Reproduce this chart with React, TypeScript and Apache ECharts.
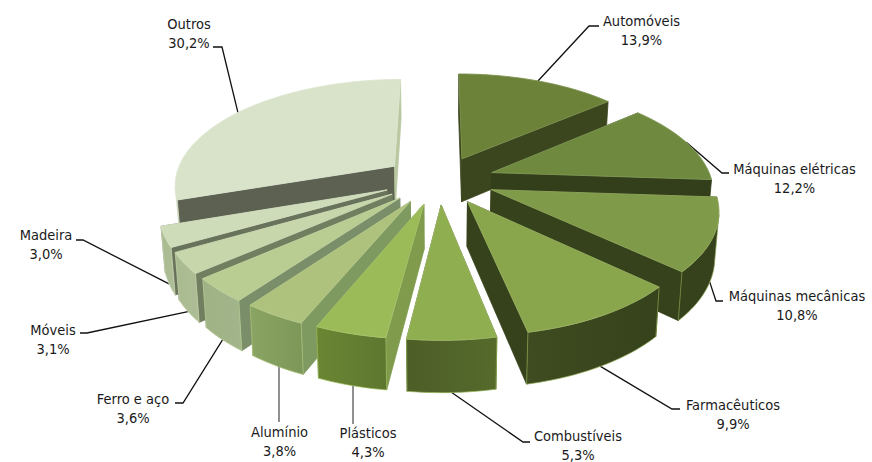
import React, { useEffect, useRef } from "react";
import * as echarts from "echarts";

const categories = ["Automóveis","Máquinas elétricas","Máquinas mecânicas","Farmacêuticos","Combustíveis","Plásticos","Alumínio","Ferro e aço","Móveis","Madeira","Outros"];
const shares = [13.9,12.2,10.8,9.9,5.3,4.3,3.8,3.6,3.1,3.0,30.2];

const topColors = ["#6b8238","#6f8a3f","#7f9a48","#8aa64d","#8fae50","#9bbb59","#aec27d","#b9cc92","#c7d6ab","#cfdcb9","#d9e3ca"];
const startWall = ["#3b451e","#3b461f","#36421b","#36421b","#55672b","#7f9b4b","#7f9a60","#7b8e6a","#717f60","#69725a","#5c6152"];
const endWall = ["#3b451e","#333e1a","#36421b","#36421b","#55672b","#7f9b4b","#7f9a60","#7b8e6a","#717f60","#69725a","#b9c8a0"];
const outerA = ["#3b451e","#3b461f","#36421b","#3f4b20","#4d5e27","#6a8633","#8aa463","#9fb386","#a9ba90","#a9ba90","#b5c59e"];
const outerB = ["#3b451e","#3b461f","#36421b","#36421b","#566a2c","#5e7730","#7d9759","#a2b58b","#aebd96","#aebd96","#b5c59e"];

// layout of the labels: text centre and the elbow of each leader line
const labelCentres = [[641.5,30.5],[794.5,178],[797,305.5],[733,414.5],[578,445],[368,442],[279.5,441],[133,408],[53,339],[46,244.5],[189,33]];
const leaderElbows = [[[589,26],[599,26]],[[722,173],[729,173]],[[716,301],[723,301]],[[672,409],[680,409]],[[523,442],[530,442]],[[353,424]],[[279,422]],[[183,403],[175,403]],[[87,333],[80,333]],[[83,240],[76,240]],[[222,47],[213,47]]];
const leaderOnBase = [false,false,true,true,true,true,true,true,true,true,false];

const CX = 439, CY = 180, RX = 224, B = 104.7, A = 0.16, EXPLODE = 0.23, EXPLODE_X = 0.25, RIM_X = 0.982, HEIGHT = 44, BASE_SHRINK = 0.985;
const FONT = '"DejaVu Sans Condensed", "DejaVu Sans"';

const total = shares.reduce((a, b) => a + b, 0);
const rad = (d: number) => (d * Math.PI) / 180;
const ranges = shares.map((_, i) => {
  const a0 = (shares.slice(0, i).reduce((a, b) => a + b, 0) / total) * 360;
  return [a0, a0 + (shares[i] / total) * 360];
});
const mid = (i: number) => (ranges[i][0] + ranges[i][1]) / 2;

function top(i: number, theta: number, r: number) {
  const m = rad(mid(i));
  const X = EXPLODE_X * Math.sin(m) + RIM_X * r * Math.sin(rad(theta));
  const Y = EXPLODE * Math.cos(m) + r * Math.cos(rad(theta));
  const s = 1 / (1 + A * Y);
  return [CX + RX * X * s, CY - B * Y * s, s];
}
function base(i: number, theta: number, r: number) {
  const [x, y, s] = top(i, theta, r);
  return [CX + (x - CX) * BASE_SHRINK, CY + (y - CY) * BASE_SHRINK + HEIGHT * s];
}
const xy = (p: number[]) => [p[0], p[1]];
function arcAngles(i: number) {
  const [a, b] = ranges[i];
  const n = Math.max(4, Math.ceil((b - a) / 1.5));
  const out: number[] = [];
  for (let k = 0; k <= n; k++) out.push(a + ((b - a) * k) / n);
  return out;
}

const paintOrder = shares.map((_, i) => i).sort((p, q) => Math.cos(rad(mid(q))) - Math.cos(rad(mid(p))));

function renderSlice(_: any, api: any) {
  const i = api.value(0);
  const angles = arcAngles(i);
  const tp = angles.map((t) => xy(top(i, t, 1)));
  const bp = angles.map((t) => xy(base(i, t, 1)));
  const apexT = xy(top(i, 0, 0));
  const apexB = xy(base(i, 0, 0));
  const poly = (points: number[][], fill: any, stroke?: string, lw = 0.8) => ({
    type: "polygon",
    shape: { points },
    style: { fill, stroke: stroke || fill, lineWidth: lw, lineJoin: "round" },
  });
  const gradient = new echarts.graphic.LinearGradient(0, 0, 1, 0, [
    { offset: 0, color: outerA[i] },
    { offset: 1, color: outerB[i] },
  ]);
  // the rim is only seen where it runs right to left on screen
  const seen: number[] = [];
  for (let k = 0; k < tp.length; k++) {
    const prev = tp[Math.max(0, k - 1)][0];
    const next = tp[Math.min(tp.length - 1, k + 1)][0];
    if (next < prev) seen.push(k);
  }
  const children: any[] = [
    poly([apexT, tp[0], bp[0], apexB], startWall[i]),
    poly([apexT, tp[tp.length - 1], bp[bp.length - 1], apexB], endWall[i]),
  ];
  if (seen.length > 1) {
    const t = seen.map((k) => tp[k]);
    const b = seen.map((k) => bp[k]).reverse();
    children.push(poly([...t, ...b], gradient, echarts.color.lift(topColors[i], 0.02), 0.7));
  }
  children.push(poly([apexT, ...tp], topColors[i], echarts.color.lift(topColors[i], 0.12), 0.9));
  return { type: "group", children };
}

function renderLabel(_: any, api: any) {
  const i = api.value(0);
  let from = xy((leaderOnBase[i] ? base : top)(i, mid(i), 1));
  const elbows = leaderElbows[i];
  // a single elbow means a straight vertical leader, tucked under the slice
  if (elbows.length === 1) from = [elbows[0][0], from[1] - 4];
  const [cx, cy] = labelCentres[i];
  return {
    type: "group",
    children: [
      {
        type: "polyline",
        shape: { points: [from, ...elbows] },
        style: { fill: "none", stroke: elbows.length === 1 ? "#555555" : "#111111", lineWidth: 1.3 },
      },
      {
        type: "text",
        x: cx,
        y: cy,
        style: {
          text: `${categories[i]}\n${shares[i].toFixed(1).replace(".", ",")}%`,
          align: "center",
          verticalAlign: "middle",
          fontFamily: FONT,
          fontSize: 14.5,
          lineHeight: 19,
          fill: "#1a1a1a",
        },
      },
    ],
  };
}

export default function App() {
  const ref = useRef<HTMLDivElement>(null);
  useEffect(() => {
    const chart = echarts.init(ref.current!, null, { renderer: "svg" });
    chart.setOption({
      animation: false,
      backgroundColor: "#ffffff",
      series: [
        { type: "custom", coordinateSystem: "none", renderItem: renderSlice, data: paintOrder.map((i) => [i, shares[i]]), silent: true, z: 2 },
        { type: "custom", coordinateSystem: "none", renderItem: renderLabel, data: shares.map((v, i) => [i, v]), silent: true, z: 1 },
      ],
    });
    return () => chart.dispose();
  }, []);
  return <div ref={ref} style={{ position: "absolute", left: 0, top: 0, width: 872, height: 462 }} />;
}
